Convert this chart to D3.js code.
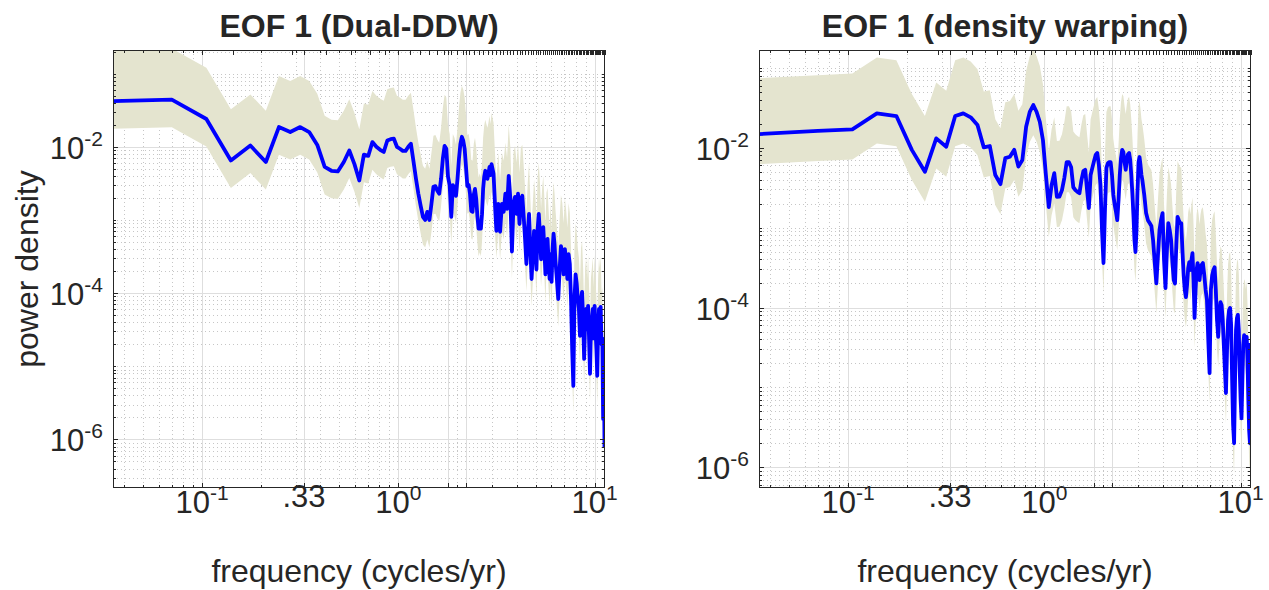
<!DOCTYPE html>
<html><head><meta charset="utf-8">
<script src="https://cdn.jsdelivr.net/npm/d3@7"></script>
<style>
body{margin:0;background:#fff;}
svg text{font-family:"Liberation Sans",Arial,Helvetica,sans-serif;fill:#262626;}
</style></head><body>
<svg id="chart" width="1269" height="590"></svg>
<script>
// frequency bins (cycles/yr)
const freq = [0.035,0.070,0.105,0.140,0.176,0.211,0.246,0.281,0.316,0.351,0.386,0.421,0.456,0.491,0.527,0.562,0.597,0.632,0.667,0.702,0.737,0.772,0.807,0.842,0.878,0.913,0.948,0.983,1.018,1.053,1.088,1.123,1.158,1.193,1.229,1.264,1.299,1.334,1.369,1.404,1.439,1.474,1.509,1.544,1.580,1.615,1.650,1.685,1.720,1.755,1.790,1.825,1.860,1.895,1.931,1.966,2.001,2.036,2.071,2.106,2.141,2.176,2.211,2.246,2.282,2.317,2.352,2.387,2.422,2.457,2.492,2.527,2.562,2.597,2.633,2.668,2.703,2.738,2.773,2.808,2.843,2.878,2.913,2.948,2.984,3.019,3.054,3.089,3.124,3.159,
3.229,3.299,3.370,3.440,3.510,3.580,3.650,3.721,3.791,3.861,3.931,4.001,4.072,4.142,4.212,4.282,4.352,4.423,4.493,4.563,4.633,4.703,4.774,4.844,4.914,4.984,5.054,5.125,5.195,5.265,5.335,5.405,5.476,5.546,5.616,5.686,5.756,5.827,5.897,5.967,6.037,6.107,6.178,6.248,6.318,
6.423,6.529,6.634,6.739,6.845,6.950,7.055,7.160,7.266,7.371,7.476,7.582,7.687,7.792,7.898,8.003,8.108,8.213,8.319,8.424,8.529,8.635,8.740,8.845,8.951,9.056,9.161,9.266,9.372,9.477,9.582,9.688,9.793,9.898,10.004,10.109,10.214,10.319,10.425,10.530,10.635,10.741,10.846,10.951,11.057,11.162,11.232];

// EOF 1 power density, Dual-DDW
const psdDualDDW = [4.2e-2,4.4e-2,2.4e-2,6.5e-3,1.04e-2,6.2e-3,1.86e-2,1.59e-2,1.86e-2,1.59e-2,
1.06e-2,5.3e-3,4.7e-3,4.6e-3,6.2e-3,8.9e-3,5.8e-3,3.46e-3,7.8e-3,7.5e-3,
1.16e-2,1.0e-2,9.1e-3,8.5e-3,1.22e-2,1.27e-2,1.29e-2,1.0e-2,9.4e-3,8.8e-3,
8.8e-3,1.0e-2,1.1e-2,6.4e-3,3.65e-3,2.28e-3,1.56e-3,1.1e-3,1.0e-3,1.29e-3,
1.0e-3,1.66e-3,2.84e-3,2.9e-3,2.5e-3,2.28e-3,3.65e-3,6.9e-3,1.03e-2,9.4e-3,
3.9e-3,3.0e-3,1.1e-3,3.0e-3,2.66e-3,2.14e-3,3.65e-3,6.9e-3,1.1e-2,1.37e-2,
1.21e-2,9.4e-3,5.3e-3,2.9e-3,3.0e-3,2.28e-3,1.33e-3,1.29e-3,2.2e-3,2.66e-3,
1.95e-3,1.14e-3,7.6e-4,8.6e-4,7.6e-4,1.2e-3,2.66e-3,3.9e-3,4.7e-3,4.1e-3,
3.65e-3,4.3e-3,5.3e-3,4.1e-3,5.8e-3,5.0e-3,4.3e-3,2.28e-3,1.21e-3,7.1e-4,
1.66e-3,6.9e-4,1.66e-3,1.29e-3,2.28e-3,1.42e-3,4.0e-3,1.95e-3,3.7e-4,1.66e-3,
2.07e-3,1.21e-3,2.28e-3,8.8e-4,1.95e-3,2.14e-3,1.1e-3,5.5e-4,2.5e-4,6.5e-4,
1.21e-3,4.0e-4,1.56e-4,3.4e-4,7.1e-4,4.7e-4,2.1e-4,7.6e-4,1.21e-3,6.5e-4,
2.9e-4,5.5e-4,8.0e-4,4.0e-4,1.8e-4,4.7e-4,5.5e-4,2.75e-4,1.56e-4,3.4e-4,
1.42e-4,4.0e-4,6.5e-4,4.7e-4,2.75e-4,
1.56e-4,8.3e-5,2.1e-4,4.4e-4,3.4e-4,1.8e-4,4.0e-4,2.75e-4,1.56e-4,3.4e-4,
2.5e-4,8.3e-5,1.72e-5,5.4e-6,8.3e-5,1.8e-4,1.34e-4,8.3e-5,6.1e-5,2.6e-5,
8.3e-5,1.04e-4,4.4e-5,1.26e-5,4.4e-5,6.1e-5,3.2e-5,6.7e-5,2.4e-5,7.9e-6,
3.2e-5,4.4e-5,6.1e-5,2.4e-5,6.7e-5,3.2e-5,1.72e-5,7.4e-6,3.2e-5,6.1e-5,
4.4e-5,6.5e-5,2.0e-5,2.4e-5,1.9e-6,1.26e-5,7.9e-7];

// EOF 1 power density, density warping
const psdDensityWarping = [1.48e-2,1.62e-2,1.70e-2,2.69e-2,2.49e-2,9.4e-3,5.0e-3,1.31e-2,1.03e-2,2.49e-2,
2.69e-2,2.40e-2,1.92e-2,1.01e-2,1.05e-2,4.55e-3,3.5e-3,7.4e-3,7.7e-3,9.4e-3,
5.8e-3,7.0e-3,1.83e-2,2.80e-2,3.42e-2,2.80e-2,2.10e-2,1.25e-2,4.55e-3,1.81e-3,
3.4e-3,4.8e-3,2.43e-3,2.44e-3,2.95e-3,4.2e-3,6.6e-3,6.6e-3,5.7e-3,3.2e-3,
2.95e-3,2.8e-3,2.7e-3,3.9e-3,5.1e-3,5.3e-3,2.95e-3,1.76e-3,4.55e-3,5.6e-3,
6.8e-3,8.1e-3,8.6e-3,6.1e-3,3.4e-3,9.3e-4,3.6e-4,1.66e-3,5.6e-3,6.4e-3,
6.6e-3,6.6e-3,4.55e-3,2.56e-3,1.92e-3,1.57e-3,1.24e-3,2.2e-3,4.55e-3,7.4e-3,
9.4e-3,8.8e-3,6.6e-3,5.3e-3,7.0e-3,8.3e-3,8.6e-3,7.0e-3,4.55e-3,2.7e-3,
1.44e-3,7.0e-4,4.95e-4,9.3e-4,2.95e-3,6.6e-3,7.65e-3,6.1e-3,4.55e-3,3.9e-3,
2.56e-3,1.52e-3,1.24e-3,1.14e-3,1.05e-3,7.0e-4,3.7e-4,2.0e-4,4.5e-4,9.3e-4,
1.24e-3,1.52e-3,3.9e-4,1.75e-4,5.2e-4,1.14e-3,9.3e-4,7.0e-4,3.7e-4,2.2e-4,
2.0e-4,6.1e-4,1.36e-3,1.24e-3,1.14e-3,1.14e-3,5.2e-4,2.55e-4,1.66e-4,1.35e-4,
1.91e-4,3.1e-4,3.7e-4,2.95e-4,3.9e-4,4.8e-4,2.2e-4,7.4e-5,1.66e-4,2.95e-4,
3.6e-4,2.95e-4,2.2e-4,2.95e-4,3.4e-4,
3.6e-4,2.55e-4,1.66e-4,1.24e-4,3.9e-5,1.51e-5,1.66e-4,2.5e-4,2.95e-4,3.2e-4,
1.66e-4,7.0e-5,4.3e-5,8.1e-5,1.17e-4,1.07e-4,7.0e-5,3.4e-5,1.65e-5,8.5e-6,
2.9e-5,7.0e-5,9.3e-5,9.9e-5,6.0e-5,1.24e-5,3.4e-6,2.0e-6,1.24e-5,5.2e-5,
7.4e-5,8.1e-5,5.2e-5,1.65e-5,7.0e-6,4.1e-6,1.24e-5,3.4e-5,4.5e-5,4.3e-5,
3.4e-5,4.3e-5,2.2e-5,7.0e-6,2.9e-6,2.0e-6,3.6e-5];

// 95% confidence limits of the spectral estimate, as multiplicative factors
const ciUpperFactor = 5.0;
const ciLowerFactor = 0.42;

const titles = ["EOF 1 (Dual-DDW)", "EOF 1 (density warping)"];
const xLabel = "frequency (cycles/yr)";
const yLabel = "power density";
const xTickValues = [0.1, 0.33, 1, 1.8, 2.2, 10];
const xTickLabels = [["10","-1"], [".33",""], ["10","0"], ["",""], ["",""], ["10","1"]];
const yTickValues = [1e-6, 1e-4, 1e-2];
const yTickLabels = [["10","-6"], ["10","-4"], ["10","-2"]];
const topTickStep = 1 / 7;   // secondary ticks along the top edge
const xDomain = [0.0351, 11.3];
const yDomains = [[Math.pow(10,-6.664), Math.pow(10,-0.677)], [Math.pow(10,-6.259), Math.pow(10,-0.777)]];

const svg = d3.select("#chart");
const TOP = 50, BOTTOM = 488;
const axisColor = "#262626";

function panel(idx, left, right, psd, showYLabel) {
  const yDomain = yDomains[idx];
  const x = d3.scaleLog().domain(xDomain).range([left, right]);
  const y = d3.scaleLog().domain(yDomain).range([BOTTOM, TOP]);
  const data = freq.map((f, i) => ({f, v: psd[i]}));
  const clipId = "clip" + idx;
  svg.append("clipPath").attr("id", clipId).append("rect")
    .attr("x", left).attr("y", TOP).attr("width", right - left).attr("height", BOTTOM - TOP);

  const xMinor = [];
  for (let e = -2; e <= 1; e++) for (let m = 2; m <= 9; m++) {
    const v = m * Math.pow(10, e);
    if (v > xDomain[0] && v < xDomain[1]) xMinor.push(v);
  }
  const yMinor = [];
  for (let e = -7; e <= 0; e++) for (let m = 1; m <= 9; m++) {
    const v = m * Math.pow(10, e);
    if (v > yDomain[0] && v < yDomain[1] && !(m === 1 && yTickValues.some(t => Math.abs(t - v) / v < 1e-6))) yMinor.push(v);
  }
  const px = v => Math.round(x(v)) + 0.5;
  const py = v => Math.round(y(v)) + 0.5;

  const grid = svg.append("g");
  grid.selectAll(".xmg").data(xMinor).enter().append("line")
    .attr("x1", px).attr("x2", px).attr("y1", TOP).attr("y2", BOTTOM)
    .attr("stroke", "#c6c6c6").attr("stroke-width", 1).attr("stroke-dasharray", "1,3");
  grid.selectAll(".ymg").data(yMinor).enter().append("line")
    .attr("y1", py).attr("y2", py).attr("x1", left).attr("x2", right)
    .attr("stroke", "#c6c6c6").attr("stroke-width", 1).attr("stroke-dasharray", "1,3");
  grid.selectAll(".xMg").data(xTickValues).enter().append("line")
    .attr("x1", px).attr("x2", px).attr("y1", TOP).attr("y2", BOTTOM)
    .attr("stroke", "#dedede").attr("stroke-width", 1);
  grid.selectAll(".yMg").data(yTickValues).enter().append("line")
    .attr("y1", py).attr("y2", py).attr("x1", left).attr("x2", right)
    .attr("stroke", "#dedede").attr("stroke-width", 1);

  const plot = svg.append("g").attr("clip-path", `url(#${clipId})`);
  plot.append("path").datum(data)
    .attr("d", d3.area().x(d => x(d.f)).y0(d => y(d.v * ciLowerFactor)).y1(d => y(d.v * ciUpperFactor)))
    .attr("fill", "#e4e4cf").attr("stroke", "none");
  plot.append("path").datum(data)
    .attr("d", d3.line().x(d => x(d.f)).y(d => y(d.v)))
    .attr("fill", "none").attr("stroke", "#0000ff").attr("stroke-width", 3.8).attr("stroke-linejoin", "round");

  const ax = svg.append("g").attr("stroke", axisColor).attr("stroke-width", 1);
  const topTicks = d3.range(1, Math.floor(xDomain[1] / topTickStep) + 1).map(k => k * topTickStep).filter(v => v > xDomain[0]);
  ax.selectAll(".tt").data(topTicks).enter().append("line")
    .attr("x1", px).attr("x2", px).attr("y1", TOP).attr("y2", TOP + 5);
  [[xTickValues, 5], [xMinor, 3]].forEach(([vals, len]) => {
    ax.selectAll(null).data(vals).enter().append("line")
      .attr("x1", px).attr("x2", px).attr("y1", BOTTOM).attr("y2", BOTTOM - len);
    ax.selectAll(null).data(vals).enter().append("line")
      .attr("x1", px).attr("x2", px).attr("y1", TOP).attr("y2", TOP + len);
  });
  [[yTickValues, 5], [yMinor, 3]].forEach(([vals, len]) => {
    ax.selectAll(null).data(vals).enter().append("line")
      .attr("y1", py).attr("y2", py).attr("x1", left).attr("x2", left + len);
    ax.selectAll(null).data(vals).enter().append("line")
      .attr("y1", py).attr("y2", py).attr("x1", right).attr("x2", right - len);
  });
  ax.append("rect").attr("x", left + 0.5).attr("y", TOP + 0.5)
    .attr("width", right - left - 1).attr("height", BOTTOM - TOP - 1).attr("fill", "none");

  // x tick labels
  xTickValues.forEach((v, i) => {
    const [b, e] = xTickLabels[i];
    if (!b) return;
    const t = svg.append("text").attr("x", x(v)).attr("y", e ? 513 : 507)
      .attr("text-anchor", "middle").attr("font-size", 31);
    t.append("tspan").text(b);
    if (e) t.append("tspan").attr("dy", -13).attr("font-size", 21).text(e);
  });
  // y tick labels
  yTickValues.forEach((v, i) => {
    const [b, e] = yTickLabels[i];
    const t = svg.append("text").attr("x", left - 10).attr("y", y(v) + 12)
      .attr("text-anchor", "end").attr("font-size", 31);
    t.append("tspan").text(b);
    t.append("tspan").attr("dy", -13).attr("font-size", 21).text(e);
  });

  svg.append("text").attr("x", (left + right) / 2).attr("y", 37)
    .attr("text-anchor", "middle").attr("font-size", 32).attr("font-weight", "bold").text(titles[idx]);
  svg.append("text").attr("x", (left + right) / 2).attr("y", 582)
    .attr("text-anchor", "middle").attr("font-size", 32).text(xLabel);
  if (showYLabel) {
    svg.append("text").attr("transform", `translate(38,${(TOP + BOTTOM) / 2}) rotate(-90)`)
      .attr("text-anchor", "middle").attr("font-size", 32).text(yLabel);
  }
}

panel(0, 113, 605, psdDualDDW, true);
panel(1, 759, 1251, psdDensityWarping, false);
</script>
</body></html>
